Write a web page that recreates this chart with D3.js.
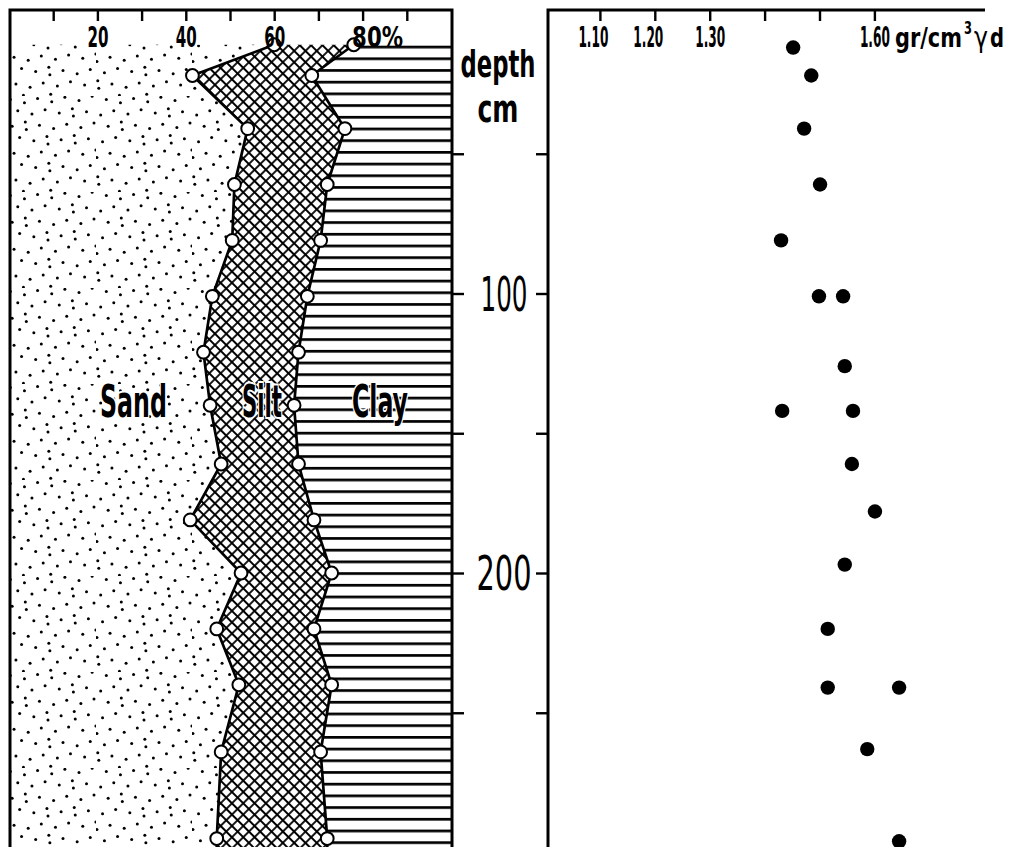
<!DOCTYPE html>
<html><head><meta charset="utf-8">
<script src="https://cdn.jsdelivr.net/npm/d3@7"></script>
<style>body{margin:0;background:#fff} svg{display:block}</style>
</head><body>
<svg id="c" width="1015" height="847"></svg>
<script>
// ---------- data ----------
const depths = [11, 22, 41, 61, 81, 101, 121, 140, 161, 181, 200, 220, 240, 264, 295];
const sand   = [60, 41.5, 54, 51, 50.5, 46, 44, 45.5, 48, 41, 52.5, 47, 52, 48, 47];
const silt   = [18, 27, 22, 21, 20, 21.5, 21.5, 19, 17.5, 28, 20.5, 22, 21, 22.5, 25];
const clay   = [22, 31.5, 24, 28, 29.5, 32.5, 34.5, 35.5, 34.5, 31, 27, 31, 27, 29.5, 28];
const densityDepths = [12, 22, 41, 61, 81, 101, 101, 126, 142, 142, 161, 178, 197, 220, 241, 241, 263, 296];
const densityValues = [1.452, 1.485, 1.472, 1.501, 1.430, 1.499, 1.543, 1.546, 1.432, 1.561, 1.559, 1.601, 1.546, 1.515, 1.515, 1.645, 1.587, 1.645];
const percentTicks = [10, 20, 30, 40, 50, 60, 70, 80, 90];
const percentLabels = ["", "20", "", "40", "", "60", "", "80%", ""];
const densityTicks = [1.1, 1.2, 1.3, 1.4, 1.5, 1.6];
const densityLabels = ["1.10", "1.20", "1.30", "", "", "1.60"];
const depthTicks = [50, 100, 150, 200, 250];
const depthLabels = ["", "100", "", "200", ""];
const fractionNames = ["Sand", "Silt", "Clay"];
const depthTitle = ["depth", "cm"];
const densityUnit = ["gr/cm", "3", "γ", "d"];

// ---------- layout / style ----------
const H = 847;
const svg = d3.select("#c");
const FONT = "'Liberation Sans Narrow','DejaVu Sans Condensed','Liberation Sans',sans-serif";
const y = d3.scaleLinear([0, 300], [14, 852.5]);
const xP = d3.scaleLinear([0, 100], [9, 451]);
const xD = d3.scaleLinear([1.0, 1.7], [545, 929.3]);
const L = {left: 10, right: 452, top: 10, bottom: 852};
const R = {left: 548, right: 985, top: 10};

// compress a text horizontally to a target width (keeps glyph height)
function squeeze(sel, widthFn) {
  sel.each(function (d, i) {
    const target = widthFn(d, i);
    const w = this.getComputedTextLength();
    if (!target || !w) return;
    const t = d3.select(this);
    const x = +t.attr("x") || 0, yy = +t.attr("y") || 0;
    t.attr("x", 0).attr("y", 0).attr("dy", null)
      .attr("transform", `translate(${x},${yy}) scale(${target / w},1)`);
  });
}

const defs = svg.append("defs");
// stipple texture (sand): low-discrepancy dot placement in a large tile
const TILE = 96, nDots = 58;
const st = defs.append("pattern").attr("id", "stip").attr("patternUnits", "userSpaceOnUse")
  .attr("width", TILE).attr("height", TILE);
for (let i = 0; i < nDots; i++) {
  const px = ((0.5 + i * 0.7548776662) % 1) * TILE;
  const py = ((0.5 + i * 0.5698402910) % 1) * TILE;
  st.append("circle").attr("cx", px).attr("cy", py).attr("r", 1.5).attr("fill", "#000");
}
// cross hatch (silt)
const ch = defs.append("pattern").attr("id", "cross").attr("patternUnits", "userSpaceOnUse")
  .attr("width", 8).attr("height", 8).attr("patternTransform", "rotate(45)");
ch.append("path").attr("d", "M0,4H8M4,0V8").attr("stroke", "#000").attr("stroke-width", 1.8);
// horizontal lines (clay)
const hl = defs.append("pattern").attr("id", "hlines").attr("patternUnits", "userSpaceOnUse")
  .attr("x", 0).attr("y", 45.7).attr("width", 20).attr("height", 11.7);
hl.append("rect").attr("x", 0).attr("y", 0).attr("width", 20).attr("height", 2.7).attr("fill", "#000");

defs.append("clipPath").attr("id", "clipL").append("rect")
  .attr("x", L.left).attr("y", L.top).attr("width", L.right - L.left).attr("height", L.bottom - L.top);

// rows
const rows = depths.map((d, i) => ({depth: d, sand: sand[i], silt: silt[i], clay: clay[i]}));
const ext = [...rows, {...rows[rows.length - 1], depth: 300}];

const gL = svg.append("g").attr("clip-path", "url(#clipL)");
const area = d3.area().y(d => y(d.depth)).curve(d3.curveLinear);
gL.append("path").datum(ext).attr("fill", "url(#stip)")
  .attr("d", area.x0(() => xP(0)).x1(d => xP(d.sand)));
gL.append("path").datum(ext).attr("fill", "url(#cross)")
  .attr("d", area.x0(d => xP(d.sand)).x1(d => xP(d.sand + d.silt)));
gL.append("path").datum(ext).attr("fill", "url(#hlines)")
  .attr("d", area.x0(d => xP(100 - d.clay)).x1(() => xP(100)));

const line = d3.line().y(d => y(d.depth));
gL.append("path").datum(ext).attr("fill", "none").attr("stroke", "#000").attr("stroke-width", 2.7)
  .attr("d", line.x(d => xP(d.sand)));
gL.append("path").datum(ext).attr("fill", "none").attr("stroke", "#000").attr("stroke-width", 2.7)
  .attr("d", line.x(d => xP(d.sand + d.silt)));

// fraction labels
const labelPos = [{x: 100, w: 67}, {x: 242, w: 40}, {x: 352, w: 56}];
const frac = svg.append("g").selectAll("text").data(fractionNames).join("text")
  .attr("x", (d, i) => labelPos[i].x).attr("y", 417)
  .attr("font-family", FONT).attr("font-size", 45).attr("font-weight", "bold")
  .attr("stroke", "#fff").attr("stroke-width", 4).attr("paint-order", "stroke")
  .attr("fill", "#000").text(d => d);
squeeze(frac, (d, i) => labelPos[i].w);

// circles
const gc = svg.append("g");
gc.selectAll("circle.s").data(rows).join("circle").attr("class", "s")
  .attr("cx", d => xP(d.sand)).attr("cy", d => y(d.depth)).attr("r", 6.4)
  .attr("fill", "#fff").attr("stroke", "#000").attr("stroke-width", 2);
gc.selectAll("circle.c").data(rows).join("circle").attr("class", "c")
  .attr("cx", d => xP(d.sand + d.silt)).attr("cy", d => y(d.depth)).attr("r", 6.4)
  .attr("fill", "#fff").attr("stroke", "#000").attr("stroke-width", 2);

// frames
svg.append("path").attr("d", `M${L.left},${H + 5}V${L.top}H${L.right}V${H + 5}`)
  .attr("fill", "none").attr("stroke", "#000").attr("stroke-width", 3);
svg.append("path").attr("d", `M${R.left},${H + 5}V${R.top}H${R.right}`)
  .attr("fill", "none").attr("stroke", "#000").attr("stroke-width", 3);

// top percent axis
const axP = svg.append("g").attr("transform", `translate(0,${L.top})`)
  .call(d3.axisBottom(xP).tickValues(percentTicks).tickSize(11).tickFormat((d, i) => percentLabels[i]));
axP.select(".domain").remove();
axP.selectAll(".tick line").attr("stroke", "#000").attr("stroke-width", 2.4);
const pt = axP.selectAll(".tick text").attr("y", 37).attr("dy", null)
  .attr("font-family", FONT).attr("font-size", 28).attr("font-weight", "bold").attr("fill", "#000")
  .attr("text-anchor", (d, i) => percentLabels[i].includes("%") ? "start" : "middle")
  .attr("x", (d, i) => percentLabels[i].includes("%") ? -11 : 0);
squeeze(pt, (d, i) => percentLabels[i].includes("%") ? 51 : (percentLabels[i] ? 21 : null));

// top density axis
const axD = svg.append("g").attr("transform", `translate(0,${R.top})`)
  .call(d3.axisBottom(xD).tickValues(densityTicks).tickSize(11).tickFormat((d, i) => densityLabels[i]));
axD.select(".domain").remove();
axD.selectAll(".tick line").attr("stroke", "#000").attr("stroke-width", 2.4);
const dt = axD.selectAll(".tick text").attr("y", 37).attr("dy", null)
  .attr("font-family", FONT).attr("font-size", 28).attr("font-weight", "bold").attr("fill", "#000")
  .attr("x", (d, i) => i < 2 ? -7 : 0);
squeeze(dt, (d, i) => densityLabels[i] ? 30 : null);

// unit label (separate pieces, placed after the 1.60 label)
const unitPos = [{x: 895, y: 47, s: 27, w: 67, wt: "bold"},
                 {x: 964, y: 34, s: 17, w: 8, wt: "bold"},
                 {x: 974, y: 47, s: 28, w: 14, wt: "normal"},
                 {x: 990, y: 47, s: 26, w: 14, wt: "bold"}];
const ut = svg.append("g").selectAll("text").data(densityUnit).join("text")
  .attr("x", (d, i) => unitPos[i].x).attr("y", (d, i) => unitPos[i].y)
  .attr("font-family", FONT).attr("font-size", (d, i) => unitPos[i].s)
  .attr("font-weight", (d, i) => unitPos[i].wt)
  .attr("fill", "#000").text(d => d);
squeeze(ut, (d, i) => unitPos[i].w);

// depth axes
const axR = svg.append("g").attr("transform", `translate(${L.right},0)`)
  .call(d3.axisRight(y).tickValues(depthTicks).tickSize(12).tickFormat(""));
axR.select(".domain").remove();
axR.selectAll(".tick line").attr("stroke", "#000").attr("stroke-width", 2.4);
const axLft = svg.append("g").attr("transform", `translate(${R.left},0)`)
  .call(d3.axisLeft(y).tickValues(depthTicks).tickSize(12).tickFormat(""));
axLft.select(".domain").remove();
axLft.selectAll(".tick line").attr("stroke", "#000").attr("stroke-width", 2.4);

const dl = svg.append("g").selectAll("text").data(depthTicks.filter((d, i) => depthLabels[i])).join("text")
  .attr("x", 504).attr("y", d => y(d) + 17)
  .attr("text-anchor", "middle").attr("font-family", FONT).attr("font-size", 48)
  .attr("fill", "#000").text(d => depthLabels[depthTicks.indexOf(d)]);
squeeze(dl, (d, i) => i === 0 ? 47 : 55);

const dtt = svg.append("g").selectAll("text").data(depthTitle).join("text")
  .attr("x", 498).attr("y", (d, i) => i === 0 ? 77 : 122)
  .attr("text-anchor", "middle").attr("font-family", FONT).attr("font-size", 37).attr("font-weight", "bold")
  .attr("fill", "#000").text(d => d);
squeeze(dtt, (d, i) => i === 0 ? 75 : 41);

// density points
svg.append("g").selectAll("circle").data(densityValues.map((v, i) => ({v, d: densityDepths[i]}))).join("circle")
  .attr("cx", p => xD(p.v)).attr("cy", p => y(p.d)).attr("r", 7.2).attr("fill", "#000");
</script>
</body></html>
